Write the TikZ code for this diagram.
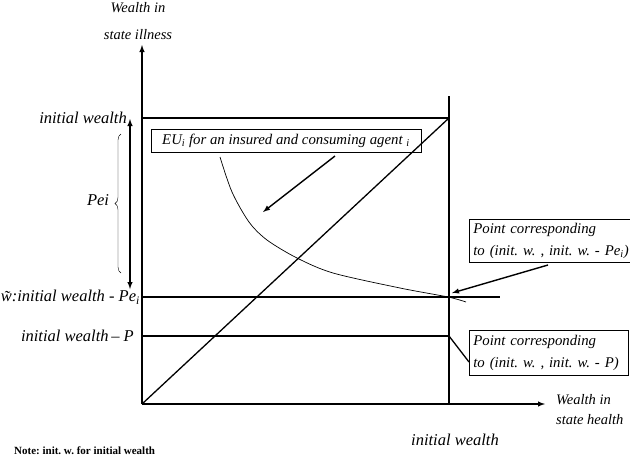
\documentclass[tikz,border=0pt]{standalone}
\usepackage{fontspec}
\setmainfont{Liberation Serif}
\usepackage{tikz}
\usetikzlibrary{decorations.pathreplacing}
\frenchspacing

\begin{document}
\begin{tikzpicture}[x=1pt,y=-1pt,>=latex]
	\tikzstyle{axis}=[draw=black, line width=1.4pt]
	\tikzstyle{wline}=[draw=black, line width=1.3pt]
	\tikzstyle{lbl}=[font=\fontsize{16.5}{18}\selectfont\itshape, inner sep=0pt]
	\tikzstyle{smalllbl}=[font=\fontsize{14.5}{16}\selectfont\itshape, inner sep=0pt]
	\tikzstyle{box}=[draw=black, line width=0.7pt, font=\fontsize{14.8}{22}\selectfont\itshape]

	\clip (0,0) rectangle (630,461);

	% axes and lines
	\coordinate (O) at (142,404);
	\coordinate (ytop) at (142,45);
	\coordinate (xend) at (545,404);
	\coordinate (IW) at (142,118);
	\coordinate (A) at (449,118);
	\coordinate (vtop) at (449,96);
	\coordinate (vbot) at (449,404);
	\coordinate (wl) at (141,297);
	\coordinate (wr) at (500,297);
	\coordinate (pl) at (142,336);
	\coordinate (pr) at (449,336);
	\coordinate (ptop) at (130,119);
	\coordinate (pbot) at (130,289);

	\path[axis,->] (O) -- (ytop);
	\path[axis,->] (O) -- (xend);
	\path[wline] (IW) -- (A);
	\path[wline] (vtop) -- (vbot);
	\path[wline] (O) -- (A);
	\path[wline] (wl) -- (wr);
	\path[wline] (pl) -- (pr);
	\path[axis,<->] (ptop) -- (pbot);
	\draw[thin, decorate, decoration={brace, amplitude=6pt}] (121,273) -- (121,134);

	\draw[line width=0.7pt] plot[smooth] coordinates {(220,157) (232,192) (249,222) (267,240) (297,258) (333,273) (400,288) (448,297) (466,302)};

	% labels
	\node [smalllbl] (wi) at (138,8) {Wealth in};
	\node [smalllbl] (si) at (138,35) {state illness};
	\node [lbl, anchor=east] (iw) at (127,118) {initial wealth};
	\node [lbl] (pei) at (98,200) {Pei};
	\node [lbl, anchor=east] (wt) at (140,297) {\~{w}:initial wealth - Pe\textsubscript{i}};
	\node [lbl, anchor=east] (iwp) at (134,336) {initial wealth\,– P};
	\node [lbl] (iwx) at (455,440) {initial wealth};
	\node [smalllbl, anchor=west] (wh) at (556,400) {Wealth in};
	\node [smalllbl, anchor=west] (sh) at (556,420) {state health};
	\node [anchor=west, inner sep=0pt, font=\fontsize{11}{12}\selectfont\bfseries] (note) at (14,451) {Note: init. w. for initial wealth};

	% boxes and pointers
	\node [box, minimum width=270pt, minimum height=23pt, inner sep=2pt] (eu) at (286,141)
		{EU\textsubscript{i} for an insured and consuming agent \textsubscript{i}};
	\node [box, anchor=north west, align=left, text width=180pt, inner sep=4pt] (pt1) at (469,219)
		{Point corresponding\\to (init. w. , init. w. - Pe\textsubscript{i})};
	\node [box, anchor=north west, align=left, text width=151pt, minimum height=45pt, inner sep=4pt] (pt2) at (469,330)
		{Point corresponding\\to (init. w. , init. w. - P)};

	\path[axis,->] (335,156) -- (263,212);
	\path[axis,->] (548,265) -- (452,293);
	\path[wline] (469,362) -- (pr);
\end{tikzpicture}
\end{document}
